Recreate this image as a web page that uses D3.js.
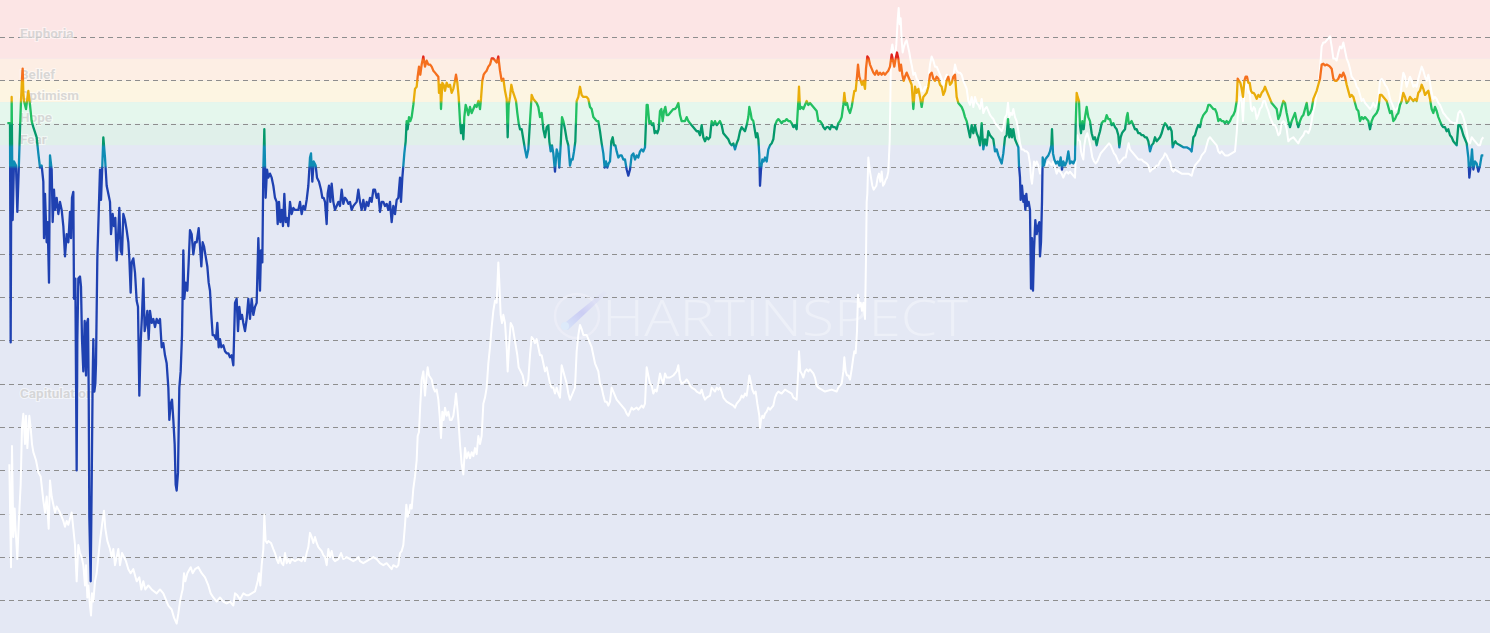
<!DOCTYPE html>
<html><head><meta charset="utf-8">
<script src="https://cdn.jsdelivr.net/npm/d3@7"></script>
<style>html,body{margin:0;padding:0;background:#e4e8f4;overflow:hidden}svg{display:block}</style>
</head><body><svg id="chart" width="1490" height="633"></svg>
<script>
// ---------- data ----------
const zoneNames   = ["Euphoria","Belief","Optimism","Hope","Fear","Capitulation"];
const zoneTops    = [1.678, 1.0, 0.75, 0.5, 0.25, 0];
const zoneBottoms = [1.0, 0.75, 0.5, 0.25, 0, -5.625];
const zoneFills   = ["#fce5e5","#fdeee4","#fdf5e2","#e5f7ed","#e0f0ea","#e4e8f4"];
const gridTicks   = [1.25,0.75,0.25,-0.25,-0.75,-1.25,-1.75,-2.25,-2.75,-3.25,-3.75,-4.25,-4.75,-5.25];
const lineThresholds = [1.0,0.75,0.5,0.25,0,-0.25];
const lineColors  = ["#e0221c","#f56f1e","#e9ad0a","#22c062","#05996b","#0f8cb4","#1f41b1"];
const startDate   = new Date(2013,3,28);
const dayDomain   = [-21, 4449];
const nuplDomain  = [1.678, -5.625];
const priceDomain = [1871, 0.001];

// NUPL series: [days since start, NUPL]
const nuplSeries = [
[1,0.257],[9,0.257],[11,-2.272],[13,-0.278],[14,0.560],[17,-0.861],[21,-0.185],[27,-0.232],[31,-0.767],[36,-0.185],[39,0.187],[42,0.513],[45,0.770],[47,0.886],[49,0.607],[51,0.513],[57,0.420],[64,0.630],[69,0.467],[74,0.281],[79,0.211],[89,0.094],[94,-0.092],[99,-0.255],[104,-0.232],[109,-0.418],[111,-1.070],[114,-0.558],[119,-1.117],[122,-0.884],[126,-1.583],[129,-0.115],[134,-0.278],[137,-0.884],[141,-0.511],[144,-0.744],[149,-0.604],[154,-0.791],[159,-0.651],[164,-0.744],[169,-0.930],[174,-1.280],[179,-1.024],[184,-1.117],[189,-0.767],[192,-1.070],[195,-0.604],[199,-0.535],[201,-1.769],[205,-1.536],[209,-3.749],[211,-2.235],[214,-1.536],[219,-1.513],[222,-1.629],[225,-2.235],[229,-2.607],[233,-2.025],[237,-2.654],[240,-2.048],[243,-2.002],[245,-2.794],[247,-4.284],[251,-5.029],[254,-3.912],[257,-2.701],[259,-2.235],[262,-2.840],[265,-2.747],[267,-2.514],[271,-1.303],[275,-0.791],[279,-0.278],[282,-0.628],[285,-0.325],[289,0.094],[294,-0.139],[299,-0.465],[304,-0.558],[309,-0.651],[312,-1.024],[317,-0.791],[321,-0.930],[325,-0.837],[329,-1.326],[333,-1.070],[337,-0.721],[341,-1.210],[345,-1.257],[349,-0.791],[354,-0.861],[359,-0.977],[364,-1.117],[367,-1.303],[371,-1.699],[374,-1.350],[379,-1.303],[384,-1.466],[389,-1.792],[393,-1.862],[397,-2.887],[401,-2.281],[405,-1.955],[409,-1.536],[413,-2.142],[417,-2.048],[421,-1.909],[425,-2.235],[429,-1.909],[434,-2.048],[439,-2.002],[444,-2.095],[449,-2.002],[454,-2.048],[459,-2.002],[464,-2.328],[469,-2.281],[474,-2.421],[479,-2.514],[484,-2.794],[487,-3.166],[491,-2.980],[495,-2.933],[499,-3.166],[503,-3.446],[506,-3.912],[509,-3.981],[513,-3.772],[517,-2.794],[521,-2.607],[525,-2.188],[529,-1.210],[532,-1.769],[536,-1.583],[541,-1.676],[545,-1.350],[549,-0.977],[554,-1.024],[559,-1.257],[564,-1.117],[569,-1.117],[575,-0.954],[579,-1.163],[583,-1.396],[587,-1.117],[591,-1.163],[597,-1.303],[601,-1.396],[605,-1.583],[609,-1.676],[613,-1.955],[617,-2.188],[621,-2.188],[627,-2.235],[631,-2.048],[635,-2.328],[639,-2.235],[643,-2.328],[649,-2.305],[654,-2.374],[659,-2.398],[664,-2.398],[669,-2.444],[674,-2.421],[679,-2.537],[684,-1.816],[689,-1.769],[693,-2.142],[697,-1.862],[701,-2.002],[705,-1.955],[709,-2.048],[714,-2.142],[719,-2.002],[724,-1.769],
[729,-2.002],[734,-1.769],[739,-1.955],[744,-1.862],[749,-1.816],[754,-1.070],[759,-1.676],[762,-1.210],[766,-1.350],[769,-0.278],[772,0.187],[776,-0.604],[780,-0.278],[784,-0.372],[789,-0.325],[794,-0.372],[799,-0.465],[804,-0.604],[809,-0.651],[812,-0.907],[816,-0.651],[820,-0.884],[824,-0.744],[828,-0.930],[832,-0.558],[836,-0.884],[840,-0.837],[844,-0.930],[849,-0.651],[854,-0.791],[859,-0.721],[864,-0.744],[874,-0.744],[879,-0.651],[884,-0.791],[889,-0.698],[894,-0.744],[899,-0.628],[904,-0.465],[909,-0.139],[912,-0.092],[916,-0.418],[920,-0.185],[926,-0.232],[930,-0.372],[936,-0.418],[942,-0.511],[946,-0.604],[950,-0.604],[954,-0.651],[959,-0.907],[962,-0.558],[966,-0.465],[970,-0.651],[974,-0.441],[979,-0.651],[984,-0.744],[989,-0.698],[994,-0.651],[999,-0.698],[1004,-0.511],[1009,-0.674],[1014,-0.604],[1019,-0.628],[1024,-0.674],[1029,-0.651],[1034,-0.744],[1039,-0.698],[1044,-0.674],[1049,-0.651],[1054,-0.511],[1059,-0.651],[1064,-0.744],[1069,-0.628],[1074,-0.744],[1079,-0.651],[1084,-0.698],[1089,-0.604],[1094,-0.651],[1099,-0.511],[1104,-0.511],[1109,-0.604],[1114,-0.558],[1119,-0.767],[1124,-0.651],[1129,-0.651],[1134,-0.698],[1139,-0.674],[1144,-0.744],[1149,-0.651],[1154,-0.884],[1159,-0.698],[1164,-0.791],[1169,-0.628],[1174,-0.604],[1179,-0.372],[1182,-0.651],[1186,-0.372],[1189,-0.232],[1192,-0.092],[1196,0.048],[1199,0.281],[1202,0.187],[1206,0.327],[1210,0.281],[1214,0.327],[1219,0.467],[1224,0.653],[1229,0.677],[1232,0.793],[1236,0.909],[1240,0.816],[1244,0.933],[1249,1.026],[1254,0.909],[1259,0.979],[1264,0.933],[1269,0.933],[1274,0.909],[1279,0.863],[1284,0.840],[1289,0.816],[1294,0.793],[1296,0.607],[1300,0.700],[1302,0.420],[1306,0.723],[1310,0.700],[1314,0.630],[1319,0.723],[1324,0.677],[1329,0.700],[1334,0.607],[1339,0.653],[1344,0.746],[1347,0.816],[1351,0.723],[1355,0.560],[1359,0.281],[1362,0.141],[1366,0.234],[1369,0.071],[1372,0.327],[1376,0.467],[1380,0.420],[1384,0.350],[1389,0.444],[1394,0.374],[1399,0.420],[1404,0.467],[1409,0.444],[1414,0.513],[1419,0.420],[1422,0.537],[1426,0.746],[1430,0.816],[1434,0.840],[1439,0.863],[1444,0.909],[1449,0.933],[1454,1.003],
[1459,1.003],[1469,0.956],[1474,1.026],[1479,0.863],[1484,0.746],[1489,0.770],[1494,0.630],[1499,0.537],[1502,0.094],[1505,0.467],[1509,0.560],[1513,0.700],[1517,0.630],[1521,0.583],[1527,0.513],[1531,0.374],[1535,0.257],[1539,0.187],[1544,0.187],[1549,0.071],[1554,-0.045],[1559,-0.139],[1564,-0.045],[1569,0.281],[1574,0.583],[1579,0.537],[1584,0.513],[1589,0.490],[1594,0.444],[1599,0.327],[1604,0.374],[1609,0.187],[1614,0.094],[1619,0.211],[1624,0.234],[1627,0.048],[1631,-0.069],[1635,0.001],[1639,-0.092],[1644,-0.302],[1649,-0.045],[1654,-0.115],[1657,-0.255],[1661,0.001],[1665,0.327],[1669,0.281],[1674,0.187],[1679,0.071],[1684,0.001],[1689,-0.232],[1693,-0.162],[1697,-0.162],[1701,-0.069],[1705,0.048],[1709,0.513],[1714,0.560],[1719,0.677],[1724,0.583],[1729,0.560],[1739,0.560],[1744,0.537],[1749,0.444],[1754,0.420],[1759,0.327],[1764,0.304],[1769,0.281],[1774,0.281],[1779,0.164],[1784,0.024],[1789,-0.092],[1793,-0.255],[1797,-0.185],[1801,-0.255],[1805,-0.208],[1809,-0.185],[1813,0.048],[1817,0.094],[1821,0.001],[1825,0.001],[1829,-0.069],[1834,-0.139],[1839,-0.115],[1844,-0.115],[1849,-0.162],[1854,-0.162],[1859,-0.278],[1864,-0.348],[1869,-0.278],[1874,-0.115],[1879,-0.092],[1884,-0.162],[1889,-0.115],[1894,-0.139],[1899,-0.069],[1904,-0.045],[1909,-0.069],[1914,-0.022],[1919,0.467],[1922,0.467],[1927,0.257],[1931,0.281],[1935,0.234],[1939,0.257],[1943,0.141],[1947,0.164],[1951,0.141],[1955,0.187],[1959,0.397],[1963,0.420],[1967,0.281],[1971,0.397],[1975,0.444],[1979,0.350],[1984,0.350],[1989,0.374],[1994,0.397],[1999,0.420],[2004,0.420],[2009,0.444],[2014,0.490],[2019,0.350],[2024,0.281],[2029,0.281],[2034,0.281],[2039,0.327],[2044,0.281],[2049,0.257],[2054,0.234],[2059,0.211],[2064,0.187],[2069,0.164],[2074,0.164],[2079,0.118],[2084,0.234],[2089,0.094],[2094,0.048],[2099,0.094],[2104,0.071],[2109,0.094],[2114,0.281],[2119,0.234],[2124,0.281],[2129,0.234],[2134,0.257],[2139,0.281],[2144,0.234],[2149,0.141],[2154,0.118],[2159,0.094],[2164,0.071],[2169,0.024],[2174,0.001],[2179,0.024],[2184,-0.045],
[2189,0.024],[2194,0.071],[2199,0.164],[2204,0.211],[2209,0.187],[2214,0.164],[2219,0.234],[2224,0.327],[2227,0.444],[2231,0.374],[2234,0.304],[2239,0.281],[2244,0.164],[2247,0.094],[2251,0.141],[2254,0.071],[2257,-0.115],[2259,-0.465],[2262,-0.278],[2266,-0.162],[2270,-0.185],[2274,-0.139],[2279,-0.185],[2284,-0.045],[2289,0.001],[2294,0.024],[2299,0.071],[2304,0.234],[2309,0.281],[2314,0.304],[2319,0.281],[2324,0.257],[2329,0.281],[2334,0.281],[2339,0.304],[2344,0.281],[2349,0.281],[2354,0.257],[2359,0.211],[2364,0.234],[2369,0.187],[2374,0.513],[2376,0.677],[2379,0.420],[2384,0.444],[2389,0.420],[2394,0.467],[2399,0.513],[2404,0.467],[2409,0.490],[2414,0.467],[2419,0.444],[2424,0.420],[2429,0.397],[2434,0.281],[2439,0.281],[2444,0.257],[2449,0.211],[2454,0.187],[2459,0.211],[2464,0.211],[2469,0.187],[2474,0.234],[2479,0.211],[2484,0.211],[2489,0.187],[2494,0.257],[2499,0.281],[2504,0.327],[2509,0.467],[2512,0.607],[2516,0.467],[2520,0.490],[2524,0.420],[2529,0.374],[2534,0.444],[2539,0.560],[2542,0.630],[2546,0.630],[2550,0.793],[2553,0.933],[2557,0.793],[2561,0.746],[2565,0.700],[2569,0.746],[2574,0.653],[2577,0.886],[2581,1.026],[2585,1.003],[2589,0.933],[2594,0.886],[2599,0.840],[2604,0.816],[2609,0.863],[2614,0.816],[2619,0.840],[2624,0.816],[2629,0.840],[2634,0.816],[2639,0.840],[2644,0.863],[2649,0.909],[2654,1.049],[2658,0.979],[2662,0.909],[2666,1.003],[2670,1.072],[2674,1.003],[2678,0.863],[2682,0.933],[2686,0.816],[2690,0.746],[2694,0.793],[2699,0.840],[2704,0.793],[2709,0.746],[2714,0.700],[2719,0.420],[2724,0.677],[2729,0.607],[2734,0.653],[2739,0.560],[2744,0.444],[2749,0.560],[2754,0.583],[2759,0.607],[2764,0.677],[2769,0.816],[2774,0.840],[2779,0.770],[2784,0.746],[2789,0.793],[2794,0.770],[2799,0.700],[2804,0.677],[2809,0.583],[2814,0.630],[2819,0.746],[2824,0.793],[2829,0.700],[2834,0.723],[2839,0.793],[2844,0.816],[2849,0.560],[2854,0.490],[2859,0.467],[2864,0.444],[2869,0.397],[2874,0.327],[2879,0.281],[2884,0.187],[2889,0.094],[2894,0.234],[2899,0.141],[2904,0.234],[2909,0.141],[2914,0.094],[2919,0.001],
[2924,0.257],[2929,-0.045],[2934,0.071],[2939,0.001],[2944,0.164],[2949,0.118],[2954,0.094],[2959,0.071],[2964,-0.069],[2969,-0.045],[2974,-0.115],[2979,-0.162],[2984,-0.208],[2989,-0.092],[2994,0.094],[2999,0.118],[3003,0.304],[3007,0.094],[3011,0.187],[3015,0.094],[3019,0.187],[3024,0.071],[3029,0.024],[3034,-0.022],[3036,-0.232],[3039,-0.372],[3041,-0.628],[3045,-0.465],[3049,-0.651],[3052,-0.581],[3055,-0.744],[3058,-0.558],[3061,-0.698],[3065,-0.651],[3069,-0.744],[3072,-1.652],[3075,-1.070],[3078,-1.676],[3081,-1.210],[3085,-0.861],[3089,-1.024],[3093,-0.930],[3097,-0.884],[3099,-1.280],[3102,-1.117],[3105,-0.651],[3107,-0.139],[3111,-0.232],[3115,-0.162],[3119,-0.139],[3124,-0.115],[3129,-0.069],[3133,0.001],[3135,0.187],[3138,-0.092],[3142,-0.162],[3147,-0.208],[3152,-0.185],[3157,-0.232],[3161,-0.139],[3165,-0.278],[3169,-0.185],[3174,-0.232],[3179,-0.185],[3184,-0.069],[3189,-0.208],[3194,-0.185],[3199,-0.208],[3204,-0.162],[3206,0.234],[3209,0.607],[3212,0.560],[3216,0.513],[3219,0.234],[3222,0.141],[3226,0.281],[3230,0.187],[3234,0.327],[3239,0.444],[3244,0.327],[3249,0.281],[3254,0.141],[3259,0.071],[3264,0.094],[3269,0.001],[3274,0.094],[3279,0.164],[3284,0.257],[3289,0.281],[3294,0.281],[3299,0.350],[3304,0.304],[3309,0.304],[3314,0.234],[3319,0.257],[3324,0.211],[3329,0.187],[3334,0.118],[3337,-0.022],[3341,0.094],[3345,0.141],[3349,0.164],[3354,0.187],[3359,0.327],[3362,0.374],[3365,0.257],[3369,0.257],[3374,0.281],[3379,0.234],[3384,0.187],[3389,0.187],[3394,0.141],[3399,0.141],[3404,0.118],[3409,0.118],[3414,0.094],[3419,0.094],[3424,0.048],[3429,-0.069],[3434,0.001],[3439,0.024],[3444,0.094],[3449,0.048],[3454,0.071],[3459,0.094],[3464,0.141],[3469,0.211],[3474,0.257],[3479,0.234],[3484,0.187],[3489,0.211],[3494,0.164],[3497,-0.022],[3501,0.024],[3505,0.048],[3509,0.024],[3519,0.001],[3529,-0.022],[3539,-0.022],[3549,-0.045],[3554,-0.069],[3559,0.094],[3564,0.118],[3569,0.187],[3574,0.234],[3579,0.211],[3584,0.304],[3589,0.350],[3594,0.374],[3599,0.397],[3604,0.467],[3609,0.467],[3614,0.444],[3619,0.420],[3624,0.420],[3629,0.374],[3634,0.281],[3639,0.304],[3644,0.281],[3649,0.281],[3654,0.257],
[3659,0.281],[3664,0.257],[3669,0.281],[3674,0.327],[3679,0.350],[3684,0.397],[3689,0.513],[3692,0.770],[3696,0.746],[3700,0.723],[3704,0.653],[3708,0.560],[3712,0.746],[3716,0.793],[3720,0.793],[3724,0.723],[3728,0.723],[3732,0.630],[3736,0.607],[3740,0.607],[3744,0.583],[3749,0.537],[3754,0.583],[3759,0.560],[3764,0.607],[3769,0.630],[3774,0.677],[3779,0.630],[3784,0.583],[3789,0.537],[3794,0.490],[3799,0.467],[3804,0.444],[3809,0.420],[3814,0.304],[3819,0.350],[3824,0.444],[3829,0.513],[3834,0.490],[3839,0.374],[3844,0.281],[3849,0.211],[3854,0.281],[3859,0.327],[3864,0.374],[3869,0.281],[3874,0.211],[3879,0.281],[3884,0.327],[3889,0.350],[3894,0.420],[3899,0.490],[3904,0.350],[3909,0.374],[3914,0.420],[3919,0.537],[3924,0.583],[3929,0.630],[3934,0.700],[3939,0.770],[3944,0.933],[3949,0.942],[3954,0.923],[3959,0.933],[3964,0.923],[3969,0.909],[3974,0.886],[3979,0.770],[3984,0.746],[3989,0.746],[3994,0.770],[3999,0.816],[4004,0.793],[4009,0.840],[4014,0.793],[4019,0.700],[4024,0.630],[4029,0.560],[4034,0.583],[4039,0.560],[4044,0.490],[4049,0.420],[4054,0.397],[4059,0.281],[4064,0.327],[4069,0.304],[4074,0.327],[4079,0.304],[4084,0.281],[4089,0.187],[4094,0.281],[4099,0.327],[4104,0.350],[4109,0.374],[4114,0.420],[4119,0.583],[4124,0.583],[4129,0.560],[4134,0.537],[4139,0.513],[4144,0.444],[4149,0.374],[4154,0.397],[4159,0.281],[4164,0.304],[4169,0.350],[4174,0.374],[4179,0.467],[4184,0.513],[4189,0.607],[4194,0.560],[4199,0.490],[4204,0.513],[4209,0.560],[4214,0.537],[4219,0.513],[4224,0.537],[4229,0.513],[4234,0.607],[4239,0.630],[4244,0.700],[4249,0.653],[4254,0.583],[4259,0.607],[4264,0.630],[4269,0.537],[4274,0.420],[4279,0.374],[4284,0.444],[4289,0.397],[4294,0.327],[4299,0.281],[4304,0.234],[4309,0.211],[4314,0.211],[4319,0.164],[4324,0.187],[4329,0.118],[4334,0.094],[4339,0.048],[4344,0.024],[4349,0.001],[4354,0.234],[4359,0.234],[4364,0.187],[4369,0.118],[4374,0.071],[4379,0.024],[4384,-0.139],[4387,-0.372],[4391,-0.232],[4395,-0.045],[4399,-0.278],[4404,-0.185],[4409,-0.208],[4414,-0.302],[4419,-0.232],[4424,-0.115],[4429,-0.115]
];

// Price series (USD, log scale): [days since start, price]
const priceSeries = [
[7,0.047],[9,0.0187],[12,0.00449],[15,0.0711],[19,0.00895],[23,0.0171],[25,0.0118],[31,0.0054],[35,0.0118],[41,0.0296],[45,0.1076],[49,0.1486],[54,0.0745],[57,0.1419],[61,0.0679],[67,0.1419],[71,0.1076],[75,0.0745],[79,0.0619],[87,0.0515],[94,0.0391],[101,0.0356],[109,0.0205],[114,0.0156],[119,0.0225],[125,0.0108],[129,0.0325],[134,0.0225],[139,0.0187],[144,0.0156],[149,0.0179],[159,0.0156],[169,0.0129],[174,0.0113],[179,0.0129],[184,0.0118],[194,0.0156],[199,0.0108],[204,0.00745],[209,0.00325],[214,0.00745],[219,0.0062],[224,0.00565],[229,0.0047],[234,0.00296],[237,0.0047],[241,0.00225],[244,0.00296],[249,0.00187],[252,0.00149],[255,0.00247],[259,0.00205],[264,0.00325],[269,0.00391],[274,0.00565],[279,0.00817],[285,0.0118],[291,0.0163],[295,0.0108],[301,0.00817],[309,0.00679],[314,0.00565],[319,0.00679],[324,0.0047],[329,0.00565],[334,0.00679],[339,0.0047],[345,0.0062],[351,0.00565],[357,0.00515],[364,0.00429],[371,0.00391],[379,0.00429],[389,0.00325],[397,0.00356],[403,0.0027],[409,0.00325],[415,0.0027],[424,0.00296],[434,0.0027],[449,0.00247],[459,0.0027],[469,0.00247],[479,0.00205],[484,0.00187],[494,0.00171],[501,0.00142],[509,0.00124],[514,0.00156],[519,0.00205],[524,0.00247],[527,0.0027],[531,0.00391],[535,0.00325],[541,0.00391],[551,0.00449],[557,0.00391],[564,0.00429],[574,0.00449],[584,0.00391],[594,0.00356],[604,0.00296],[611,0.00247],[619,0.00225],[629,0.00205],[639,0.00225],[649,0.00205],[659,0.00196],[669,0.00205],[679,0.00187],[684,0.00247],[691,0.00236],[699,0.00215],[709,0.00247],[719,0.00236],
[724,0.00236],[734,0.00247],[744,0.00258],[752,0.00325],[756,0.00391],[760,0.00296],[764,0.0047],[769,0.00679],[772,0.0149],[776,0.00817],[780,0.0078],[784,0.00817],[792,0.0078],[799,0.00679],[804,0.0062],[809,0.0054],[814,0.00492],[819,0.00565],[824,0.00492],[829,0.0047],[834,0.0062],[839,0.00492],[844,0.0054],[849,0.00492],[854,0.0054],[864,0.00515],[874,0.0054],[884,0.00515],[889,0.00565],[894,0.00515],[899,0.0062],[904,0.00711],[909,0.00982],[914,0.00895],[919,0.0078],[924,0.00895],[929,0.0078],[934,0.00711],[939,0.00679],[944,0.00649],[949,0.00592],[954,0.00565],[959,0.0047],[964,0.00679],[969,0.00565],[974,0.00649],[979,0.0054],[984,0.00515],[994,0.0054],[1002,0.0062],[1009,0.0054],[1019,0.00565],[1029,0.0054],[1039,0.00515],[1049,0.0054],[1054,0.00565],[1059,0.00515],[1069,0.00492],[1079,0.00515],[1089,0.0054],[1099,0.00565],[1109,0.0054],[1119,0.00492],[1129,0.0047],[1139,0.00492],[1149,0.00449],[1154,0.00429],[1159,0.0047],[1169,0.00449],[1174,0.0047],[1179,0.0062],[1184,0.00649],[1189,0.00745],[1194,0.0118],[1198,0.0187],[1202,0.0142],[1206,0.0156],[1210,0.0187],[1214,0.0171],[1219,0.027],[1224,0.0356],[1229,0.0515],[1232,0.0895],[1236,0.0982],[1240,0.187],[1244,0.325],[1249,0.391],[1254,0.225],[1259,0.356],[1262,0.429],[1266,0.356],[1270,0.34],[1274,0.325],[1279,0.27],[1284,0.247],[1289,0.258],[1294,0.205],[1298,0.1419],[1302,0.0855],[1306,0.156],[1310,0.129],[1314,0.171],[1319,0.1419],[1324,0.156],[1329,0.129],[1334,0.129],[1339,0.1419],[1344,0.187],[1347,0.236],[1351,0.171],[1355,0.118],[1359,0.0745],[1364,0.047],[1369,0.0373],[1374,0.0679],[1379,0.054],[1384,0.0619],[1389,0.054],[1394,0.0619],[1399,0.0565],[1404,0.0679],[1409,0.0592],[1414,0.0895],[1419,0.0745],[1424,0.0895],[1429,0.187],[1434,0.215],[1439,0.27],[1444,0.47],[1449,0.679],[1454,1.076],[1459,1.556],
[1464,1.96],[1469,1.87],[1474,4.70],[1477,2.96],[1481,1.42],[1485,1.18],[1489,1.42],[1494,1.18],[1499,0.679],[1502,0.391],[1506,0.679],[1511,1.18],[1517,1.076],[1521,0.895],[1527,0.679],[1531,0.565],[1535,0.429],[1541,0.391],[1547,0.356],[1553,0.283],[1559,0.283],[1564,0.325],[1569,0.565],[1574,0.855],[1579,0.817],[1584,0.745],[1589,0.817],[1594,0.679],[1599,0.565],[1604,0.565],[1609,0.47],[1614,0.391],[1619,0.429],[1624,0.356],[1629,0.296],[1634,0.27],[1639,0.27],[1644,0.236],[1649,0.27],[1654,0.236],[1659,0.215],[1664,0.449],[1669,0.391],[1674,0.34],[1679,0.296],[1684,0.236],[1689,0.205],[1694,0.225],[1699,0.247],[1704,0.27],[1709,0.619],[1714,0.895],[1719,1.127],[1724,1.028],[1729,0.895],[1739,0.895],[1744,0.817],[1749,0.745],[1754,0.679],[1759,0.565],[1764,0.47],[1769,0.429],[1774,0.391],[1779,0.296],[1784,0.27],[1789,0.225],[1794,0.196],[1799,0.196],[1804,0.179],[1809,0.196],[1814,0.27],[1819,0.247],[1824,0.225],[1829,0.205],[1834,0.196],[1839,0.187],[1844,0.179],[1849,0.171],[1854,0.163],[1859,0.149],[1864,0.142],[1869,0.156],[1874,0.171],[1879,0.163],[1889,0.171],[1894,0.163],[1899,0.171],[1904,0.179],[1909,0.171],[1914,0.187],[1919,0.429],[1924,0.356],[1929,0.296],[1934,0.283],[1939,0.236],[1944,0.258],[1949,0.247],[1954,0.296],[1959,0.373],[1964,0.325],[1969,0.296],[1974,0.373],[1979,0.34],[1989,0.34],[1999,0.356],[2004,0.373],[2009,0.391],[2014,0.449],[2019,0.325],[2024,0.296],[2034,0.31],[2039,0.325],[2044,0.31],[2049,0.283],[2054,0.27],[2064,0.258],[2069,0.247],[2079,0.236],[2084,0.258],[2089,0.225],[2094,0.205],[2099,0.215],[2109,0.225],[2114,0.27],[2119,0.258],[2124,0.247],[2129,0.27],[2134,0.258],[2139,0.27],[2144,0.247],[2149,0.215],[2154,0.205],[2159,0.196],[2169,0.187],[2179,0.179],[2184,0.171],
[2189,0.187],[2194,0.196],[2199,0.205],[2204,0.225],[2209,0.215],[2214,0.236],[2219,0.225],[2224,0.296],[2227,0.356],[2231,0.31],[2236,0.258],[2241,0.236],[2246,0.247],[2251,0.187],[2257,0.142],[2259,0.1076],[2262,0.129],[2266,0.142],[2270,0.1355],[2274,0.149],[2279,0.156],[2284,0.171],[2289,0.163],[2294,0.171],[2299,0.179],[2304,0.215],[2309,0.236],[2314,0.247],[2324,0.236],[2334,0.258],[2344,0.247],[2354,0.236],[2359,0.215],[2369,0.205],[2374,0.409],[2376,0.619],[2380,0.391],[2384,0.373],[2389,0.34],[2394,0.391],[2399,0.409],[2404,0.391],[2409,0.409],[2414,0.391],[2419,0.373],[2424,0.34],[2429,0.283],[2434,0.27],[2444,0.258],[2454,0.247],[2474,0.258],[2489,0.247],[2494,0.27],[2504,0.296],[2509,0.391],[2512,0.54],[2516,0.391],[2520,0.356],[2524,0.356],[2529,0.325],[2534,0.409],[2539,0.54],[2542,0.619],[2546,0.592],[2550,0.982],[2553,2.25],[2557,1.71],[2561,1.87],[2565,1.556],[2569,1.87],[2574,1.294],[2577,5.15],[2579,18.7],[2581,22.5],[2584,51.5],[2588,39.1],[2592,32.5],[2596,27.0],[2600,24.7],[2604,25.8],[2608,27.0],[2612,32.5],[2616,35.6],[2620,29.6],[2624,37.3],[2628,27.0],[2632,28.3],[2636,31.0],[2640,32.5],[2644,37.3],[2648,74.5],[2650,187],[2652,565],[2656,679],[2660,565],[2664,492],[2668,679],[2672,1180],[2675,1556],[2678,1076],[2681,1236],[2684,745],[2687,565],[2691,649],[2695,711],[2699,745],[2703,649],[2707,565],[2711,470],[2715,409],[2719,340],[2724,356],[2729,310],[2734,296],[2739,270],[2744,236],[2749,236],[2754,258],[2759,247],[2764,296],[2769,429],[2774,515],[2779,470],[2784,409],[2789,409],[2794,373],[2799,340],[2804,310],[2809,270],[2814,310],[2819,340],[2824,325],[2829,296],[2834,283],[2839,325],[2844,429],[2849,373],[2854,356],[2859,356],[2864,340],[2869,296],[2874,270],[2879,247],[2884,187],[2889,171],[2894,205],[2899,163],[2904,205],[2909,179],[2914,171],[2919,156],
[2924,196],[2929,142],[2934,156],[2939,163],[2944,149],[2949,136],[2954,129],[2959,124],[2964,113],[2969,108],[2974,103],[2979,98.2],[2984,93.8],[2989,103],[2994,129],[2999,136],[3003,179],[3007,129],[3011,142],[3015,136],[3019,156],[3024,129],[3029,118],[3034,93.8],[3039,71.1],[3044,61.9],[3049,61.9],[3054,59.2],[3059,59.2],[3064,56.5],[3069,44.9],[3072,32.5],[3075,28.3],[3078,35.6],[3081,47.0],[3085,42.9],[3089,47.0],[3094,42.9],[3099,35.6],[3104,42.9],[3109,47.0],[3114,44.9],[3119,42.9],[3124,47.0],[3129,44.9],[3134,42.9],[3139,47.0],[3144,40.9],[3149,35.6],[3154,39.1],[3159,37.3],[3164,35.6],[3169,32.5],[3174,35.6],[3179,37.3],[3184,35.6],[3189,37.3],[3194,35.6],[3199,34.0],[3204,32.5],[3207,61.9],[3211,85.5],[3214,78.0],[3219,74.5],[3222,59.2],[3225,54.0],[3229,49.2],[3232,67.9],[3236,81.7],[3241,89.5],[3246,78.0],[3251,64.9],[3256,51.5],[3261,47.0],[3266,44.9],[3271,47.0],[3276,51.5],[3281,56.5],[3286,59.2],[3291,61.9],[3296,64.9],[3301,67.9],[3306,71.1],[3311,67.9],[3316,61.9],[3321,56.5],[3326,54.0],[3331,49.2],[3336,44.9],[3341,47.0],[3346,49.2],[3351,51.5],[3356,51.5],[3361,61.9],[3365,71.1],[3369,61.9],[3374,59.2],[3379,56.5],[3384,54.0],[3389,51.5],[3394,49.2],[3404,49.2],[3409,47.0],[3419,44.9],[3424,42.9],[3429,37.3],[3434,39.1],[3444,40.9],[3449,42.9],[3454,42.9],[3459,47.0],[3464,49.2],[3469,51.5],[3474,56.5],[3479,54.0],[3484,49.2],[3489,47.0],[3494,39.1],[3499,37.3],[3504,39.1],[3514,37.3],[3524,35.6],[3544,35.6],[3554,34.0],[3559,39.1],[3564,42.9],[3569,44.9],[3574,47.0],[3579,49.2],[3584,54.0],[3589,56.5],[3594,59.2],[3599,67.9],[3604,78.0],[3609,81.7],[3614,78.0],[3619,74.5],[3624,71.1],[3629,67.9],[3634,59.2],[3639,56.5],[3644,59.2],[3649,56.5],[3654,54.0],
[3664,54.0],[3674,56.5],[3684,59.2],[3689,89.5],[3692,129],[3696,179],[3700,205],[3704,187],[3708,118],[3712,225],[3716,258],[3720,283],[3724,225],[3728,236],[3732,156],[3736,149],[3740,163],[3744,156],[3749,124],[3754,136],[3759,156],[3764,163],[3769,187],[3774,187],[3779,163],[3784,149],[3789,129],[3794,118],[3799,108],[3804,108],[3809,98.2],[3814,85.5],[3819,89.5],[3824,113],[3829,118],[3834,113],[3839,98.2],[3844,74.5],[3849,78.0],[3859,81.7],[3869,74.5],[3874,71.1],[3879,78.0],[3889,85.5],[3894,93.8],[3899,93.8],[3904,89.5],[3909,98.2],[3914,118],[3919,149],[3924,171],[3929,225],[3934,258],[3939,391],[3944,649],[3949,711],[3954,711],[3959,745],[3964,780],[3969,817],[3974,649],[3979,492],[3984,492],[3989,470],[3994,565],[3999,649],[4004,619],[4009,711],[4014,592],[4019,492],[4024,449],[4029,391],[4034,325],[4039,310],[4044,296],[4049,258],[4054,247],[4059,215],[4064,187],[4069,196],[4074,179],[4079,171],[4089,156],[4094,163],[4099,179],[4104,163],[4109,171],[4114,196],[4119,296],[4124,310],[4129,296],[4134,270],[4139,258],[4144,236],[4149,196],[4154,179],[4159,163],[4164,149],[4169,156],[4174,163],[4179,196],[4184,270],[4189,356],[4194,325],[4199,258],[4204,296],[4209,325],[4214,296],[4219,258],[4224,270],[4229,258],[4234,310],[4239,356],[4244,409],[4249,373],[4254,325],[4259,296],[4264,340],[4269,283],[4274,225],[4279,196],[4284,205],[4289,196],[4294,179],[4299,171],[4304,156],[4309,142],[4314,136],[4319,129],[4324,124],[4329,118],[4339,113],[4349,113],[4354,142],[4359,149],[4364,142],[4369,129],[4374,113],[4379,93.8],[4384,74.5],[4389,71.1],[4394,81.7],[4399,78.0],[4404,74.5],[4409,71.1],[4414,67.9],[4419,67.9],[4424,78.0],[4429,81.7]
];

// ---------- chart ----------
const W = 1490, H = 633;
const svg = d3.select("#chart");
const dayToDate = d => d3.timeDay.offset(startDate, d);

const x = d3.scaleTime().domain(dayDomain.map(dayToDate)).range([0, W]);
const yN = d3.scaleLinear().domain(nuplDomain).range([0, H]);
const yP = d3.scaleLog().domain(priceDomain).range([0, H]);

// zones
svg.append("g").selectAll("rect").data(zoneNames).join("rect")
  .attr("x", 0).attr("width", W)
  .attr("y", (d,i) => yN(zoneTops[i]))
  .attr("height", (d,i) => yN(zoneBottoms[i]) - yN(zoneTops[i]))
  .attr("fill", (d,i) => zoneFills[i]);

// grid
svg.append("g").selectAll("line").data(gridTicks).join("line")
  .attr("x1", 0).attr("x2", W)
  .attr("y1", d => Math.round(yN(d)) + 0.5).attr("y2", d => Math.round(yN(d)) + 0.5)
  .attr("stroke", "#8e8e8e").attr("stroke-width", 1)
  .attr("stroke-dasharray", "5,4");

// zone labels
svg.append("g").selectAll("text").data(zoneNames).join("text")
  .attr("x", 20)
  .attr("y", (d,i) => (yN(zoneTops[i]) + yN(zoneBottoms[i])) / 2 + 9)
  .attr("font-family", "Roboto, 'Open Sans', sans-serif")
  .attr("font-weight", 700).attr("font-size", 13.5)
  .attr("fill", "#c9c9c9").attr("fill-opacity", 0.7)
  .attr("stroke", "#ffffff").attr("stroke-opacity", 0.55).attr("stroke-width", 2)
  .attr("paint-order", "stroke")
  .text(d => d);

// watermark
const wm = svg.append("g").attr("opacity", 0.55);
const defs = svg.append("defs");
const cg = defs.append("linearGradient").attr("id", "comet").attr("x1", "0%").attr("y1", "100%").attr("x2", "100%").attr("y2", "0%");
cg.append("stop").attr("offset", "0%").attr("stop-color", "#cfe6ff");
cg.append("stop").attr("offset", "45%").attr("stop-color", "#b8b8f4");
cg.append("stop").attr("offset", "100%").attr("stop-color", "#dcdcf6").attr("stop-opacity", 0.2);
wm.append("circle").attr("cx", 577).attr("cy", 316).attr("r", 22)
  .attr("fill", "none").attr("stroke", "#f2f2fa").attr("stroke-width", 2.5);
wm.append("path").attr("d", "M561,326 L604,291 L607,293 L568,330 Z").attr("fill", "url(#comet)");
wm.append("circle").attr("cx", 565).attr("cy", 326).attr("r", 4).attr("fill", "#d8ecff");
wm.append("text").attr("x", 602).attr("y", 336)
  .attr("font-family", "'Open Sans', Lato, sans-serif").attr("font-weight", 300)
  .attr("font-size", 50).attr("fill", "#f6f7fc")
  .attr("textLength", 366).attr("lengthAdjust", "spacingAndGlyphs")
  .text("HARTINSPECT");

// gradient for NUPL line
const grad = defs.append("linearGradient").attr("id", "nuplGrad")
  .attr("gradientUnits", "userSpaceOnUse").attr("x1", 0).attr("y1", 0).attr("x2", 0).attr("y2", H);
grad.append("stop").attr("offset", 0).attr("stop-color", lineColors[0]);
lineThresholds.forEach((t, i) => {
  const o = yN(t) / H, e = 1.6 / H;
  grad.append("stop").attr("offset", o - e).attr("stop-color", lineColors[i]);
  grad.append("stop").attr("offset", o + e).attr("stop-color", lineColors[i + 1]);
});
grad.append("stop").attr("offset", 1).attr("stop-color", lineColors[lineColors.length - 1]);

// price line
const priceLine = d3.line().x(d => x(dayToDate(d[0]))).y(d => yP(d[1]));
svg.append("path").datum(priceSeries).attr("d", priceLine)
  .attr("fill", "none").attr("stroke", "#ffffff").attr("stroke-width", 2)
  .attr("stroke-linejoin", "round");

// NUPL line
const nuplLine = d3.line().x(d => x(dayToDate(d[0]))).y(d => yN(d[1]));
svg.append("path").datum(nuplSeries).attr("d", nuplLine)
  .attr("fill", "none").attr("stroke", "url(#nuplGrad)").attr("stroke-width", 2.3)
  .attr("stroke-linejoin", "round");
</script></body></html>
